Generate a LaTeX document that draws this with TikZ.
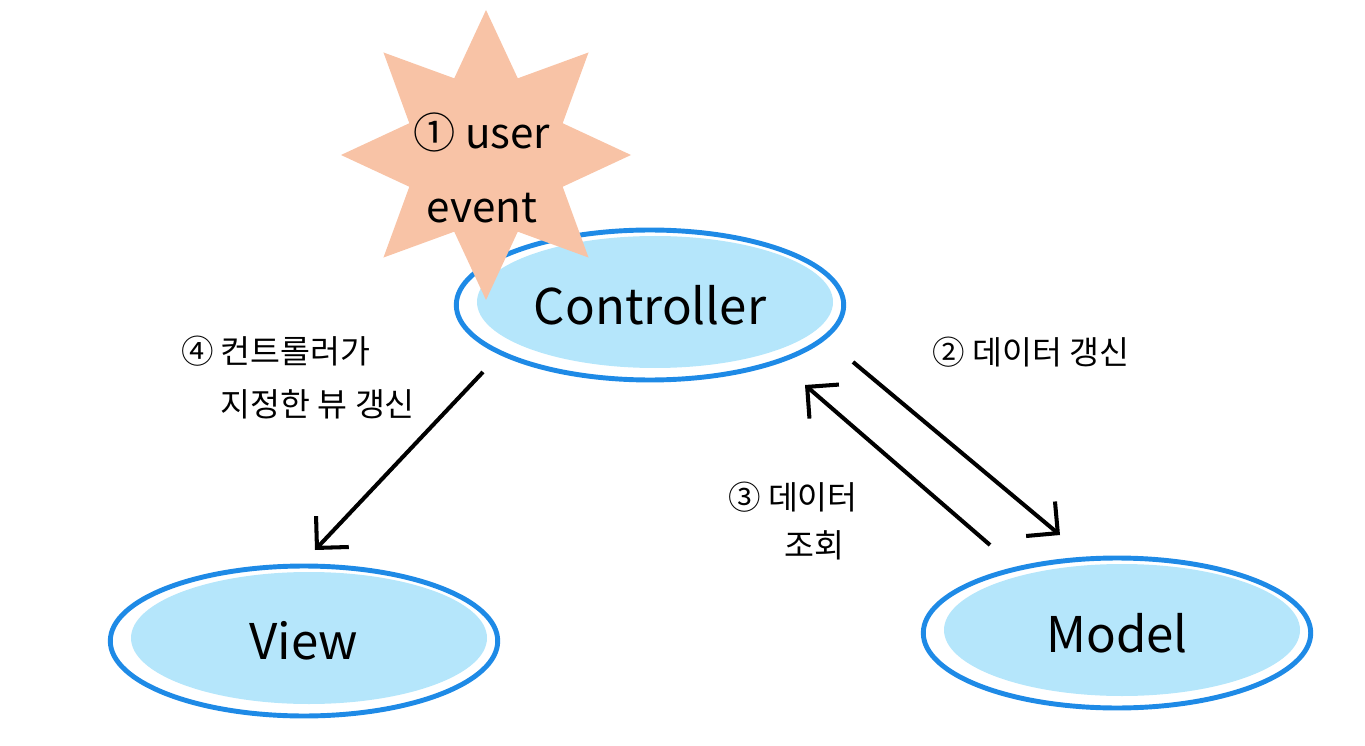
\documentclass[tikz,border=0pt]{standalone}
\usepackage{fontspec}
\setmainfont{Noto Sans CJK KR}
\usepackage{tikz}
\usetikzlibrary{shapes.geometric}
\usetikzlibrary{arrows.meta}

\definecolor{ringblue}{HTML}{1E8AE6}
\definecolor{cellblue}{HTML}{B5E6FB}
\definecolor{burst}{HTML}{F8C3A6}

\tikzset{
  stage/.style={ellipse, draw=ringblue, line width=2.8pt, minimum width=7.75cm, minimum height=3.0cm, inner sep=0pt,
    font=\fontsize{28}{30}\selectfont,
    path picture={\fill[cellblue] ([shift={(5,-3)}]path picture bounding box.center) ellipse [x radius=178, y radius=66];}},
  flow/.style={line width=2.3pt, -{Straight Barb[length=4.5mm, width=9mm, line width=2.3pt]}},
  note/.style={font=\fontsize{18.5}{30}\selectfont, align=left, inner sep=0pt},
}

\begin{document}
\begin{tikzpicture}[x=0.02cm, y=-0.02cm]
        \useasboundingbox (0,0) rectangle (1365,746);

        \node[stage] (ctrl) at (650,305) {Controller};
        \node[stage] (view) at (304,641) {View};
        \node[stage] (model) at (1117,633) {Model};

        % user event burst
        \fill[burst, shift={(486,155)}] plot[samples at={0,...,15}] ({\x*22.5}:{114+31*cos(180*\x)}) -- cycle;
        \node[align=center, font=\fontsize{24}{42}\selectfont] (event) at (482,168) {① user\\event};

        \coordinate (cv-a) at ([shift={(-167,67)}]ctrl.center);
        \coordinate (cv-b) at ([shift={(11,-91)}]view.center);
        \coordinate (cm-a) at ([shift={(203,57)}]ctrl.center);
        \coordinate (cm-b) at ([shift={(-57,-98)}]model.center);
        \coordinate (mc-a) at ([shift={(-127,-88)}]model.center);
        \coordinate (mc-b) at ([shift={(155,80)}]ctrl.center);

        \draw[flow] (cv-a)--(cv-b);
        \draw[flow] (cm-a)--(cm-b);
        \draw[flow] (mc-a)--(mc-b);

        \node[note] (step4) at (298,378) {④ 컨트롤러가\\\phantom{④ }지정한 뷰 갱신};
        \node[note] (step2) at (1031,352) {② 데이터 갱신};
        \node[note, font=\fontsize{18.5}{27}\selectfont] (step3) at (793,521) {③ 데이터\\\phantom{③ }\hspace{0.5em}조회};
    \end{tikzpicture}
\end{document}
